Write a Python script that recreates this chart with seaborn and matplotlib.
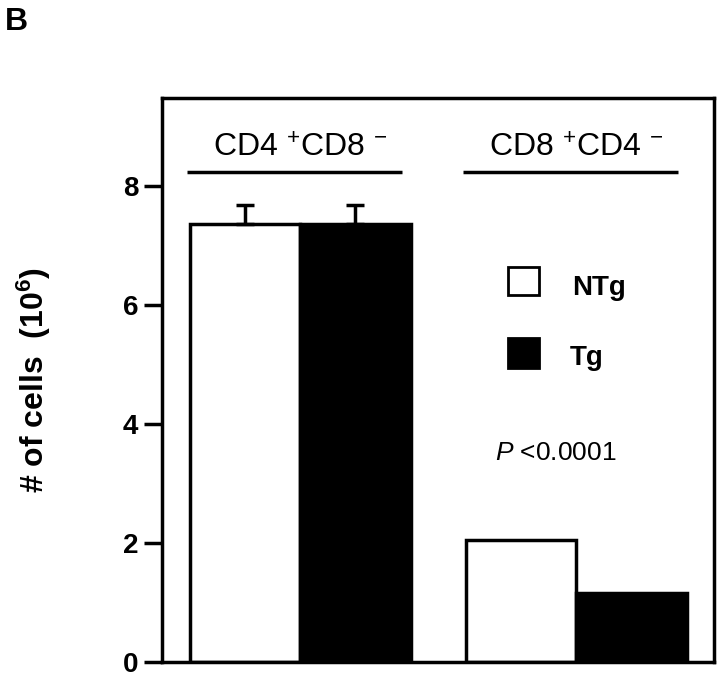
import matplotlib
matplotlib.use("Agg")
import matplotlib.pyplot as plt
import seaborn as sns
import pandas as pd
from matplotlib.patches import Rectangle

groups = ["CD4 $^{+}$CD8 $^{-}$", "CD8 $^{+}$CD4 $^{-}$"]
genotypes = ["NTg", "Tg"]
ntg_values = [7.36, 2.05]
tg_values = [7.36, 1.16]
ntg_err = [0.32, 0.0]
tg_err = [0.32, 0.0]
yticks = [0, 2, 4, 6, 8]

sns.set_theme(style="white")
plt.rcParams["font.family"] = ["Liberation Sans", "DejaVu Sans"]
plt.rcParams["mathtext.fontset"] = "custom"
plt.rcParams["mathtext.rm"] = "Liberation Sans"
plt.rcParams["mathtext.bf"] = "Liberation Sans:bold"
plt.rcParams["mathtext.it"] = "Liberation Sans:italic"
for k in ["text.color", "axes.labelcolor", "xtick.color", "ytick.color"]:
    plt.rcParams[k] = "black"

df = pd.DataFrame({
    "group": [groups[0], groups[0], groups[1], groups[1]],
    "genotype": ["NTg", "Tg", "NTg", "Tg"],
    "value": [ntg_values[0], tg_values[0], ntg_values[1], tg_values[1]],
})

fig = plt.figure(figsize=(7.2, 6.79), dpi=100)
ax = fig.add_axes([0.225, 0.025, 0.767, 0.831])

sns.barplot(data=df, x="group", y="value", hue="genotype", order=groups,
            hue_order=genotypes, palette={"NTg": "white", "Tg": "black"},
            edgecolor="black", linewidth=2.5, errorbar=None, width=0.8,
            legend=False, ax=ax)

# error bars (upper only)
errs = {"NTg": ntg_err, "Tg": tg_err}
vals = {"NTg": ntg_values, "Tg": tg_values}
for i, g in enumerate(groups):
    for j, gt in enumerate(genotypes):
        e = errs[gt][i]
        if e > 0:
            xc = i - 0.2 + 0.4 * j
            ax.errorbar(xc, vals[gt][i], yerr=[[0], [e]], color="black",
                        capsize=6.5, capthick=2.5, elinewidth=2.5, fmt="none")

ax.set_ylim(0, 9.48)
ax.set_xlim(-0.5, 1.5)
ax.set_yticks(yticks)
ax.set_yticklabels([str(t) for t in yticks], fontsize=20, fontweight="bold")
ax.set_xticks([])
ax.set_xlabel("")
ax.set_ylabel(r"# of cells  (10$^{\mathbf{6}}$)", fontsize=23, fontweight="bold",
              labelpad=50)
ax.tick_params(axis="y", direction="out", length=13, width=2.5, pad=4, left=True)
for s in ax.spines.values():
    s.set_visible(True)
    s.set_linewidth(2.5)
    s.set_color("black")

# group labels with underline
for i, g in enumerate(groups):
    ax.text(i, 8.62, g, ha="center", va="center", fontsize=23)
    ax.plot([i - 0.41, i + 0.37], [8.24, 8.24], color="black", lw=2.5,
            solid_capstyle="butt")

# legend
ax.add_patch(Rectangle((0.754, 6.17), 0.11, 0.47, facecolor="white",
                       edgecolor="black", lw=2))
ax.text(0.986, 6.17, "NTg", fontsize=20, fontweight="bold", va="baseline")
ax.add_patch(Rectangle((0.754, 4.94), 0.11, 0.5, facecolor="black",
                       edgecolor="black", lw=2))
ax.text(0.978, 4.99, "Tg", fontsize=20, fontweight="bold", va="baseline")
ax.text(0.707, 3.39, r"$\it{P}$ <0.0001", fontsize=19, va="baseline")

fig.text(0.007, 0.956, "B", fontsize=23, fontweight="bold", va="baseline")

fig.savefig("out.png", dpi=100)
